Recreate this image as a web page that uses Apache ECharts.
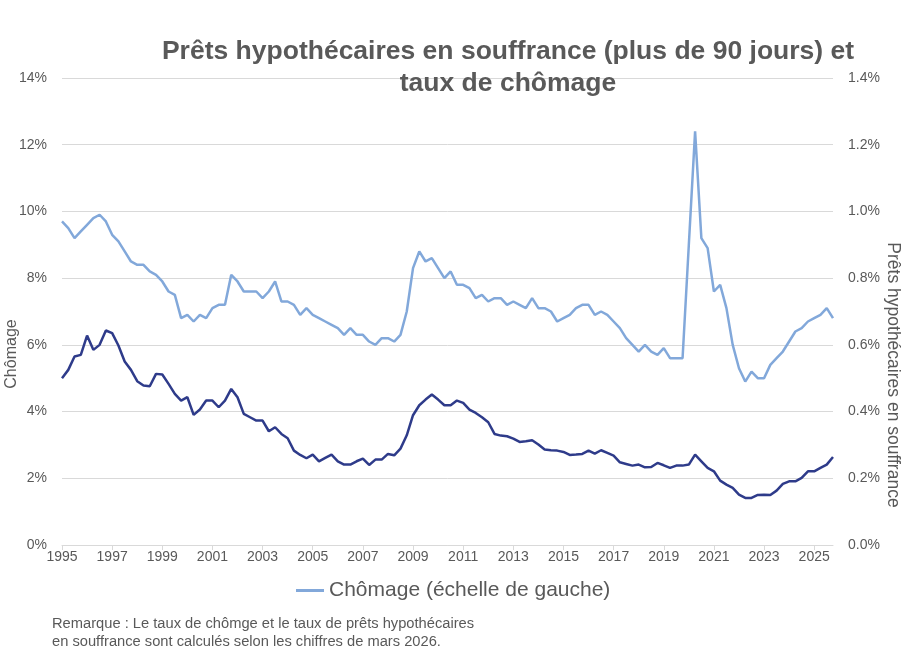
<!DOCTYPE html>
<html>
<head>
    <meta charset="utf-8">
    <title>Prêts hypothécaires en souffrance et taux de chômage</title>
    <script src="https://cdn.jsdelivr.net/npm/echarts@6.0.0/dist/echarts.min.js"></script>
    <style>
        html, body { margin: 0; padding: 0; background: #fff; }
    </style>
</head>
<body>
    <div id="main" style="width: 909px;height:660px;"></div>
    <script type="text/javascript">
        // années de l'axe (données trimestrielles, T1 1995 à T4 2025)
        var years = [1995, 1996, 1997, 1998, 1999, 2000, 2001, 2002, 2003, 2004, 2005, 2006, 2007, 2008, 2009, 2010,
                     2011, 2012, 2013, 2014, 2015, 2016, 2017, 2018, 2019, 2020, 2021, 2022, 2023, 2024, 2025];

        // taux de chômage (%), échelle de gauche
        var chomage = [
            9.7, 9.5, 9.2, 9.4, 9.6, 9.8, 9.9, 9.7, 9.3, 9.1, 8.8, 8.5, 8.4, 8.4, 8.2, 8.1,
            7.9, 7.6, 7.5, 6.8, 6.9, 6.7, 6.9, 6.8, 7.1, 7.2, 7.2, 8.1, 7.9, 7.6, 7.6, 7.6,
            7.4, 7.6, 7.9, 7.3, 7.3, 7.2, 6.9, 7.1, 6.9, 6.8, 6.7, 6.6, 6.5, 6.3, 6.5, 6.3,
            6.3, 6.1, 6.0, 6.2, 6.2, 6.1, 6.3, 7.0, 8.3, 8.8, 8.5, 8.6, 8.3, 8.0, 8.2, 7.8,
            7.8, 7.7, 7.4, 7.5, 7.3, 7.4, 7.4, 7.2, 7.3, 7.2, 7.1, 7.4, 7.1, 7.1, 7.0, 6.7,
            6.8, 6.9, 7.1, 7.2, 7.2, 6.9, 7.0, 6.9, 6.7, 6.5, 6.2, 6.0, 5.8, 6.0, 5.8, 5.7,
            5.9, 5.6, 5.6, 5.6, 9.0, 12.4, 9.2, 8.9, 7.6, 7.8, 7.1, 6.0, 5.3, 4.9, 5.2, 5.0,
            5.0, 5.4, 5.6, 5.8, 6.1, 6.4, 6.5, 6.7, 6.8, 6.9, 7.1, 6.8
        ];

        // prêts hypothécaires en souffrance depuis plus de 90 jours (%), échelle de droite
        var souffrance = [
            0.50, 0.525, 0.565, 0.57, 0.628, 0.585, 0.60, 0.643, 0.635, 0.598, 0.55, 0.525, 0.491, 0.478, 0.476, 0.513,
            0.511, 0.483, 0.453, 0.433, 0.443, 0.39, 0.406, 0.433, 0.433, 0.413, 0.433, 0.468, 0.443, 0.393, 0.383, 0.373,
            0.373, 0.341, 0.353, 0.333, 0.32, 0.283, 0.27, 0.26, 0.271, 0.251, 0.261, 0.271, 0.251, 0.241, 0.241, 0.251,
            0.259, 0.24, 0.256, 0.256, 0.273, 0.269, 0.289, 0.329, 0.389, 0.419, 0.436, 0.451, 0.436, 0.419, 0.419, 0.433,
            0.426, 0.406, 0.396, 0.383, 0.368, 0.333, 0.328, 0.326, 0.319, 0.309, 0.311, 0.314, 0.301, 0.286, 0.284, 0.283,
            0.279, 0.27, 0.271, 0.273, 0.283, 0.274, 0.284, 0.276, 0.268, 0.248, 0.243, 0.238, 0.241, 0.233, 0.234, 0.246,
            0.239, 0.231, 0.238, 0.238, 0.241, 0.271, 0.251, 0.231, 0.221, 0.193, 0.181, 0.171, 0.151, 0.141, 0.141, 0.15,
            0.151, 0.15, 0.163, 0.183, 0.191, 0.191, 0.201, 0.221, 0.221, 0.231, 0.241, 0.264
        ];

        // étiquettes des trimestres
        var trimestres = [];
        for (var i = 0; i < years.length; i++) {
            for (var q = 1; q <= 4; q++) {
                trimestres.push(years[i] + 'T' + q);
            }
        }

        var gris = '#595959';
        var police = 'Liberation Sans, Arial, sans-serif';

        var myChart = echarts.init(document.getElementById('main'));
        var option = {
            animation: false,
            backgroundColor: '#fff',
            title: {
                text: 'Prêts hypothécaires en souffrance (plus de 90 jours) et\ntaux de chômage',
                left: 508,
                top: 36,
                padding: 0,
                textAlign: 'center',
                textStyle: {
                    fontFamily: police,
                    fontSize: 26.5,
                    fontWeight: 'bold',
                    color: gris,
                    lineHeight: 32
                }
            },
            legend: {
                data: ['Chômage (échelle de gauche)'],
                left: 296,
                top: 580,
                padding: 0,
                icon: 'rect',
                itemWidth: 28,
                itemHeight: 3,
                itemGap: 10,
                textStyle: { fontFamily: police, fontSize: 21, color: gris }
            },
            grid: {
                left: 62,
                right: 76,
                top: 78,
                bottom: 115,
                containLabel: false
            },
            xAxis: {
                type: 'category',
                data: trimestres,
                boundaryGap: false,
                axisLine: { lineStyle: { color: '#d9d9d9', width: 1 } },
                axisTick: { show: true, interval: 7, length: 5, lineStyle: { color: '#d9d9d9' } },
                axisLabel: {
                    interval: 7,
                    margin: 5,
                    color: gris,
                    fontFamily: police,
                    fontSize: 14,
                    formatter: function (v) { return v.slice(0, 4); }
                },
                splitLine: { show: false }
            },
            yAxis: [{
                type: 'value',
                min: 0,
                max: 14,
                interval: 2,
                position: 'left',
                axisLine: { show: false },
                axisTick: { show: false },
                axisLabel: { margin: 15, color: gris, fontFamily: police, fontSize: 14, formatter: '{value}%' },
                splitLine: { lineStyle: { color: '#d9d9d9', width: 1 } }
            }, {
                type: 'value',
                min: 0,
                max: 1.4,
                interval: 0.2,
                position: 'right',
                axisLine: { show: false },
                axisTick: { show: false },
                axisLabel: {
                    margin: 15, color: gris, fontFamily: police, fontSize: 14,
                    formatter: function (v) { return v.toFixed(1) + '%'; }
                },
                splitLine: { show: false }
            }],
            series: [{
                name: 'Chômage (échelle de gauche)',
                type: 'line',
                yAxisIndex: 0,
                data: chomage,
                symbol: 'none',
                lineStyle: { color: '#82a8da', width: 2.5 },
                itemStyle: { color: '#82a8da' }
            }, {
                name: 'Prêts hypothécaires en souffrance',
                type: 'line',
                yAxisIndex: 1,
                data: souffrance,
                symbol: 'none',
                lineStyle: { color: '#2e3b8a', width: 2.5 },
                itemStyle: { color: '#2e3b8a' }
            }],
            graphic: [{
                // titre de l'axe de gauche
                type: 'text',
                x: 12,
                y: 354,
                rotation: Math.PI / 2,
                style: {
                    text: 'Chômage',
                    fill: gris,
                    font: '16px ' + police,
                    textAlign: 'center',
                    textVerticalAlign: 'middle',
                    align: 'center',
                    verticalAlign: 'middle'
                }
            }, {
                // titre de l'axe de droite
                type: 'text',
                x: 893,
                y: 375,
                rotation: -Math.PI / 2,
                style: {
                    text: 'Prêts hypothécaires en souffrance',
                    fill: gris,
                    font: '17.5px ' + police,
                    textAlign: 'center',
                    textVerticalAlign: 'middle',
                    align: 'center',
                    verticalAlign: 'middle'
                }
            }, {
                // remarque sous le graphique
                type: 'text',
                left: 52,
                top: 615,
                style: {
                    text: 'Remarque : Le taux de chômge et le taux de prêts hypothécaires\nen souffrance sont calculés selon les chiffres de mars 2026.',
                    fill: gris,
                    font: '14.7px ' + police,
                    lineHeight: 18
                }
            }]
        };

        myChart.setOption(option);
    </script>
</body>
</html>
